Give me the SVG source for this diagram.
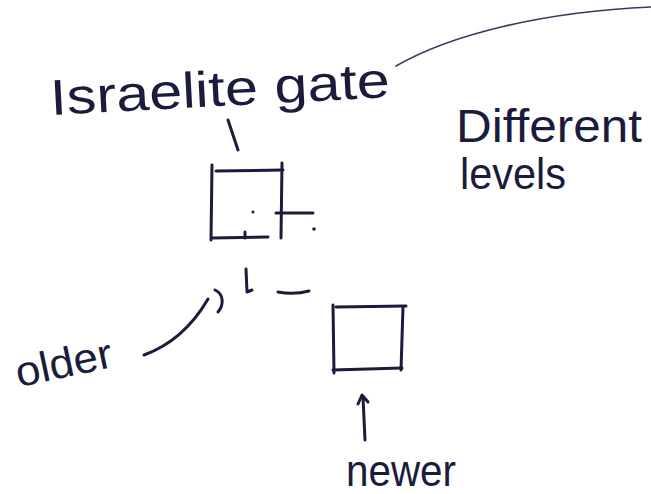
<svg xmlns="http://www.w3.org/2000/svg" width="651" height="494" viewBox="0 0 651 494">
<style>
.ink{fill:none;stroke:#1b1b3c;stroke-width:3;stroke-linecap:round;stroke-linejoin:round}
.thin{fill:none;stroke:#3a3a58;stroke-width:1.6;stroke-linecap:round}
.t{font-family:"Liberation Sans","DejaVu Sans",sans-serif;fill:#1b1b3c;font-weight:normal}
</style>
<rect width="651" height="494" fill="#ffffff"/>
<g id="label-gate">
<text class="t" x="50" y="106" font-size="50" textLength="340" lengthAdjust="spacingAndGlyphs" transform="rotate(-3 220 90)">Israelite gate</text>
</g>
<g id="label-levels">
<text class="t" x="456" y="142" font-size="46" textLength="186" lengthAdjust="spacingAndGlyphs">Different</text>
<text class="t" x="460" y="189" font-size="44" textLength="106" lengthAdjust="spacingAndGlyphs">levels</text>
</g>
<g id="gate-box">
<path class="ink" d="M212 165 L211 240"/>
<path class="ink" d="M216 171 L283 170"/>
<path class="ink" d="M282 163 L281 238"/>
<path class="ink" d="M212 238 L268 237"/>
<path class="ink" d="M276 213 L313 213"/>
<path class="ink" d="M245 232 L245 238"/>
<circle cx="253" cy="212" r="1.5" fill="#1b1b3c"/>
<circle cx="314" cy="229" r="1.8" fill="#1b1b3c"/>
</g>
<g id="older-marks">
<path class="ink" d="M246 269 L247 292 L252 290"/>
<path class="ink" d="M278 292 Q294 295 309 291"/>
</g>
<g id="label-older">
<text class="t" x="14" y="378" font-size="42" textLength="98" lengthAdjust="spacingAndGlyphs" transform="rotate(-12 60 360)">older</text>
</g>
<g id="newer-box">
<path class="ink" d="M333 305 L334 373"/>
<path class="ink" d="M336 307 L406 306"/>
<path class="ink" d="M403 307 L401 370"/>
<path class="ink" d="M333 370 L402 368"/>
</g>
<g id="label-newer">
<text class="t" x="346" y="486" font-size="44" textLength="110" lengthAdjust="spacingAndGlyphs">newer</text>
</g>
<g id="connectors">
<path class="thin" d="M396 66 C450 35 540 12 651 7"/>
<path class="ink" d="M228 120 L238 150"/>
<path class="ink" d="M144 355 C166 347 190 330 208 299"/>
<path class="ink" d="M215 290 C224 294 224 305 218 312"/>
<path class="ink" d="M365 440 L363 397"/>
<path class="ink" d="M358 404 L362 395 L368 402"/>
</g>
</svg>
